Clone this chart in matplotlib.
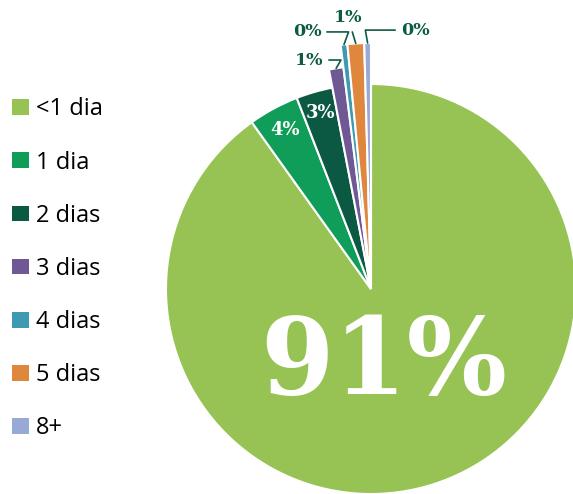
import numpy as np
import matplotlib.pyplot as plt
from matplotlib.patches import Patch

# share of cases by waiting time
categories = ['<1 dia', '1 dia', '2 dias', '3 dias', '4 dias', '5 dias', '8+']
shares = [90.6, 4.0, 2.9, 1.05, 0.44, 1.1, 0.44]
colors = ['#97C355', '#109D5A', '#0B5943', '#6F5994', '#3E9AB3', '#DE873D', '#97A9D5']
# small slices are drawn longer so they stand out
radii = [1.0, 1.0, 1.0, 1.09, 1.2, 1.2, 1.2]

label_color = '#0D5A45'
W, H = 573, 494
cx, cy, R = 371, 289, 205  # pie centre and radius in pixels

fig = plt.figure(figsize=(W / 100, H / 100), dpi=100)
ax = fig.add_axes([0, 0, 1, 1])

wedges, _ = ax.pie(shares, colors=colors, startangle=90, counterclock=False,
                   radius=1.0, wedgeprops=dict(edgecolor='white', linewidth=1.5))
for w, r in zip(wedges, radii):
    w.set_radius(r)

ax.set_xlim(-cx / R, (W - cx) / R)
ax.set_ylim(-(H - cy) / R, cy / R)
ax.set_aspect('equal')
ax.axis('off')

pct = [f'{v:.0f}%' for v in shares]

# big label for the main slice
ax.text(0.06, -0.37, pct[0], color='white', fontsize=76, family='DejaVu Serif',
        fontweight='bold', ha='center', va='center')

# white labels inside the mid slices
for i, rr in [(1, 0.88), (2, 0.895)]:
    w = wedges[i]
    a = np.deg2rad((w.theta1 + w.theta2) / 2)
    ax.text(rr * np.cos(a), rr * np.sin(a), pct[i], color='white', fontsize=13,
            family='DejaVu Serif', fontweight='bold', ha='center', va='center')

# outside labels with leader lines
outside = {
    3: ((-0.302, 1.117), 'angle,angleA=0,angleB=60'),
    4: ((-0.312, 1.254), 'angle,angleA=0,angleB=70'),
    5: ((-0.112, 1.322), 'arc3'),
    6: ((0.215, 1.263), 'angle,angleA=180,angleB=100'),
}
for i, (pos, conn) in outside.items():
    w = wedges[i]
    a = np.deg2rad((w.theta1 + w.theta2) / 2)
    tip = (w.r * np.cos(a), w.r * np.sin(a))
    ax.annotate(pct[i], xy=tip, xytext=pos, color=label_color, fontsize=12.5,
                family='DejaVu Serif', fontweight='bold', ha='center', va='center',
                arrowprops=dict(arrowstyle='-', color=label_color, lw=1.2,
                                connectionstyle=conn, shrinkA=2, shrinkB=0))

handles = [Patch(facecolor=c, edgecolor='none') for c in colors]
fig.legend(handles, categories, loc='upper left', bbox_to_anchor=(0.004, 0.822),
           frameon=False, prop={'family': 'Open Sans', 'size': 17},
           handlelength=0.72, handleheight=0.64, handletextpad=0.3,
           labelspacing=1.235, borderaxespad=0)

fig.savefig('out.png', dpi=100)
